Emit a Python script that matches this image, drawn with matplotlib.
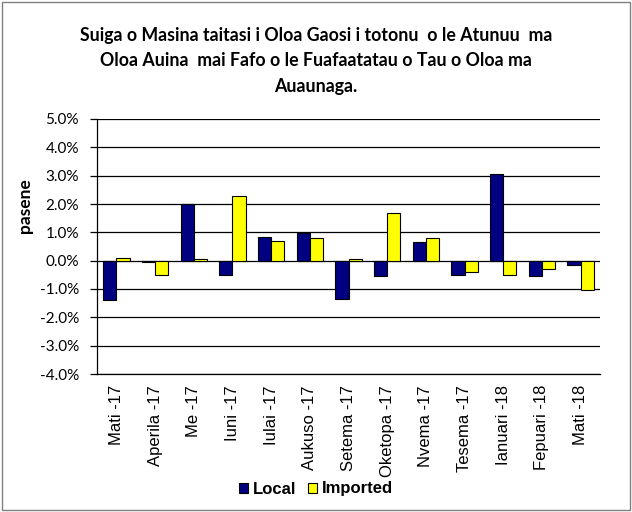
import numpy as np
import matplotlib.pyplot as plt
from matplotlib.patches import Rectangle

months = ["Mati -17", "Aperila -17", "Me -17", "Iuni -17", "Iulai -17", "Aukuso -17",
          "Setema -17", "Oketopa -17", "Nvema -17", "Tesema -17", "Ianuari -18",
          "Fepuari -18", "Mati -18"]
local = [-1.4, -0.05, 2.0, -0.5, 0.85, 0.97, -1.35, -0.55, 0.65, -0.5, 3.05, -0.55, -0.15]
imported = [0.1, -0.5, 0.05, 2.3, 0.7, 0.8, 0.05, 1.7, 0.8, -0.4, -0.5, -0.3, -1.05]

title = ("Suiga o Masina taitasi i Oloa Gaosi i totonu  o le Atunuu  ma\n"
         "Oloa Auina  mai Fafo o le Fuafaatatau o Tau o Oloa ma\n"
         "Auaunaga.")

fig = plt.figure(figsize=(6.32, 5.12), dpi=100)
fig.patches.append(Rectangle((0.003, 0.003), 0.994, 0.994, transform=fig.transFigure,
                             fill=False, edgecolor="#808080", lw=1))
ax = fig.add_axes([97/632, 1-374/512, 503/632, 255/512])

x = np.arange(len(months))
w = 0.34
ax.bar(x - w/2, local, w, color="#000080", edgecolor="black", lw=0.8, label="Local", zorder=3)
ax.bar(x + w/2, imported, w, color="#FFFF00", edgecolor="black", lw=0.8, label="Imported", zorder=3)

ax.set_xlim(-0.5, len(months) - 0.5)
ax.set_ylim(-4, 5)
yt = np.arange(-4, 6, 1)
ax.set_yticks(yt)
ax.set_yticklabels([f"{v:.1f}%" for v in yt], fontfamily="Lato", fontsize=11)
ax.yaxis.grid(True, color="black", lw=0.9, zorder=0)
ax.set_xticks(x)
ax.set_xticklabels(months, rotation=90, fontfamily="Liberation Sans", fontsize=12)
ax.tick_params(axis="x", length=0, pad=8)
ax.tick_params(axis="y", length=5, width=0.9, pad=8)
for s in ["top", "right"]:
    ax.spines[s].set_visible(False)
ax.spines["left"].set_linewidth(0.9)
ax.spines["bottom"].set_linewidth(0.9)

ax.set_ylabel("pasene", fontfamily="Lato", fontweight="bold", fontsize=12.5)
ax.yaxis.set_label_coords(-0.127, 0.66)

fig.text(0.5, 1-61/512, title, ha="center", va="center", fontfamily="Lato",
         fontweight="bold", fontsize=12.8, linespacing=1.6)

fig.legend(loc="center", bbox_to_anchor=(0.5, 1-489/512), ncol=2, frameon=False,
           prop={"family": "Liberation Sans", "weight": "bold", "size": 12},
           handlelength=0.55, handleheight=0.55, handletextpad=0.3, columnspacing=0.7)

fig.savefig("out.png", dpi=100)
